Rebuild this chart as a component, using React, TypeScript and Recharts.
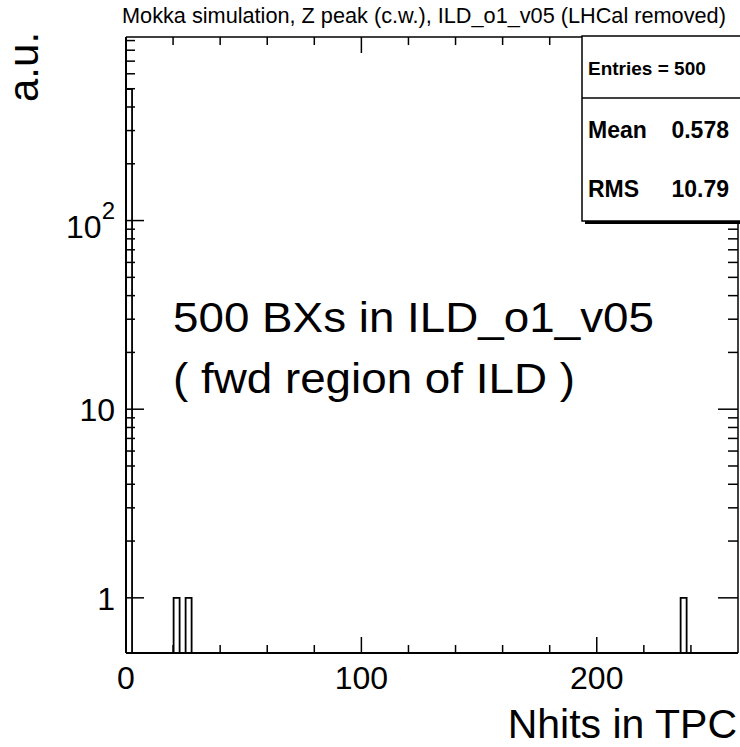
import React from "react";
import { Bar, ComposedChart, Line, XAxis, YAxis } from "recharts";

// non-empty bins of the Nhits histogram: bin centre and entries
const binCenters = [1.3, 21.5, 26.6, 236.9];
const binCounts = [497, 1, 1, 1];

const xMajorTicks = [0, 100, 200];
const xMinorTicks = [20, 40, 60, 80, 120, 140, 160, 180, 220, 240];
const yMajorTicks = [1, 10, 100];
const yMajorLabels = ["1", "10", "10^2"];
const yMinorTicks = [
  2, 3, 4, 5, 6, 7, 8, 9, 20, 30, 40, 50, 60, 70, 80, 90, 200, 300, 400, 500,
  600, 700, 800, 900,
];

const statNames = ["Mean", "RMS"];
const statValues = ["0.578", "10.79"];

const title = "Mokka simulation, Z peak (c.w.), ILD_o1_v05 (LHCal removed)";
const noteLines = ["500 BXs in ILD_o1_v05", "( fwd region of ILD )"];

const data = binCenters.map((x, i) => ({ x, n: binCounts[i] }));
const entries = binCounts.reduce((a, b) => a + b, 0);

const FONT = "'Liberation Sans', Arial, Helvetica, sans-serif";
const X_DOMAIN: [number, number] = [0, 260];
const Y_DOMAIN: [number, number] = [0.51, 940];
const xTicks = [...xMajorTicks, ...xMinorTicks].sort((a, b) => a - b);
const yTicks = [...yMajorTicks, ...yMinorTicks].sort((a, b) => a - b);

function BottomTick({ x, y, payload }: any) {
  const major = xMajorTicks.includes(payload.value);
  return (
    <g>
      <line x1={x} y1={y} x2={x} y2={y - (major ? 16 : 8)} stroke="#000" strokeWidth={1.5} />
      {major && (
        <text x={x} y={y + 36} textAnchor="middle" fontSize={32} fontFamily={FONT} fill="#000">
          {payload.value}
        </text>
      )}
    </g>
  );
}

function TopTick({ x, y, payload }: any) {
  const major = xMajorTicks.includes(payload.value);
  return <line x1={x} y1={y} x2={x} y2={y + (major ? 16 : 8)} stroke="#000" strokeWidth={1.5} />;
}

function LeftTick({ x, y, payload }: any) {
  const i = yMajorTicks.indexOf(payload.value);
  if (i < 0) {
    return <line x1={x} y1={y} x2={x + 9} y2={y} stroke="#000" strokeWidth={1.5} />;
  }
  const [base, exp] = yMajorLabels[i].split("^");
  return (
    <g>
      <line x1={x} y1={y} x2={x + 18} y2={y} stroke="#000" strokeWidth={1.5} />
      <text
        x={x - 11}
        y={y + (exp ? 17 : 12)}
        textAnchor="end"
        fontSize={32}
        fontFamily={FONT}
        fill="#000"
      >
        {base}
        {exp && (
          <tspan dy={-19} fontSize={24}>
            {exp}
          </tspan>
        )}
      </text>
    </g>
  );
}

function RightTick({ x, y, payload }: any) {
  const major = yMajorTicks.includes(payload.value);
  return <line x1={x} y1={y} x2={x - (major ? 20 : 10)} y2={y} stroke="#000" strokeWidth={1.5} />;
}

export default function App() {
  return (
    <div style={{ position: "absolute", left: 0, top: 0, width: 740, height: 747, background: "#fff" }}>
      <ComposedChart
        width={740}
        height={747}
        data={data}
        margin={{ top: 36, right: 0, bottom: 0, left: 0 }}
      >
        <XAxis
          xAxisId="bottom"
          type="number"
          dataKey="x"
          domain={X_DOMAIN}
          allowDataOverflow
          ticks={xTicks}
          interval={0}
          height={94}
          tickSize={0}
          tickMargin={0}
          tickLine={false}
          tick={<BottomTick />}
          axisLine={{ stroke: "#000", strokeWidth: 2 }}
        />
        <XAxis
          xAxisId="top"
          orientation="top"
          type="number"
          dataKey="x"
          domain={X_DOMAIN}
          allowDataOverflow
          ticks={xTicks}
          interval={0}
          height={1}
          tickSize={0}
          tickMargin={0}
          tickLine={false}
          tick={<TopTick />}
          axisLine={{ stroke: "#000", strokeWidth: 1.5 }}
        />
        <YAxis
          yAxisId="left"
          scale="log"
          domain={Y_DOMAIN}
          allowDataOverflow
          ticks={yTicks}
          interval={0}
          width={126}
          tickSize={0}
          tickMargin={0}
          tickLine={false}
          tick={<LeftTick />}
          axisLine={{ stroke: "#000", strokeWidth: 2 }}
        />
        <YAxis
          yAxisId="right"
          orientation="right"
          scale="log"
          domain={Y_DOMAIN}
          allowDataOverflow
          ticks={yTicks}
          interval={0}
          width={2}
          tickSize={0}
          tickMargin={0}
          tickLine={false}
          tick={<RightTick />}
          axisLine={{ stroke: "#000", strokeWidth: 1.5 }}
        />
        <Bar
          xAxisId="bottom"
          yAxisId="left"
          dataKey="n"
          barSize={6}
          fill="none"
          stroke="#000"
          strokeWidth={1.8}
          isAnimationActive={false}
        />
        {/* invisible series so the top/right frame axes share the same scales */}
        <Line
          xAxisId="top"
          yAxisId="right"
          dataKey="n"
          stroke="none"
          dot={false}
          activeDot={false}
          isAnimationActive={false}
        />
      </ComposedChart>

      <svg
        width={740}
        height={747}
        style={{ position: "absolute", left: 0, top: 0, pointerEvents: "none" }}
        fontFamily={FONT}
      >
        <text x={122} y={23} fontSize={21.7} fill="#000">
          {title}
        </text>
        <text transform="translate(38,102) rotate(-90)" fontSize={42} fill="#000">
          a.u.
        </text>
        <text x={737} y={738} textAnchor="end" fontSize={41} fill="#000">
          Nhits in TPC
        </text>
        {noteLines.map((line, i) => (
          <text
            key={line}
            transform={`translate(173,${332 + i * 61}) scale(1.09,1)`}
            fontSize={42}
            fill="#000"
          >
            {line}
          </text>
        ))}

        {/* statistics box */}
        <rect x={585} y={39} width={170} height={185} fill="#000" />
        <rect x={582} y={36} width={170} height={185} fill="#fff" stroke="#000" strokeWidth={1.5} />
        <line x1={582} y1={98} x2={740} y2={98} stroke="#000" strokeWidth={1.5} />
        <text x={588} y={75} fontSize={19} fontWeight="bold" fill="#000">
          Entries = {entries}
        </text>
        {statNames.map((name, i) => (
          <g key={name}>
            <text x={588} y={138 + i * 59} fontSize={23} fontWeight="bold" fill="#000">
              {name}
            </text>
            <text x={729} y={138 + i * 59} textAnchor="end" fontSize={23} fontWeight="bold" fill="#000">
              {statValues[i]}
            </text>
          </g>
        ))}
      </svg>
    </div>
  );
}
